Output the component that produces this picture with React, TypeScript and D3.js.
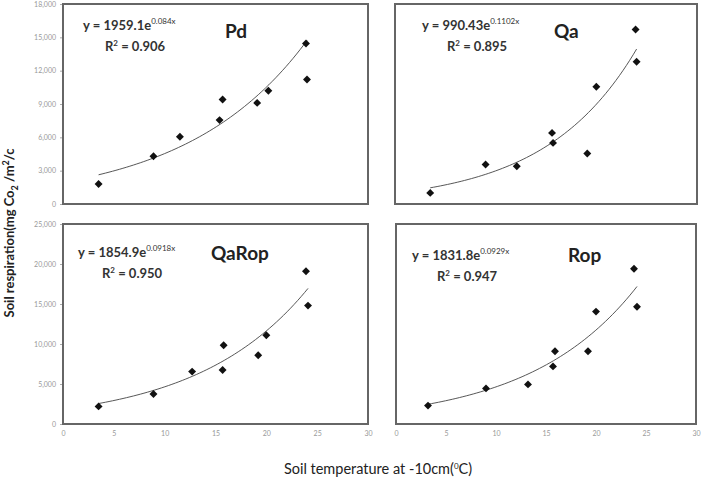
import * as d3 from 'd3'
import { useEffect, useRef } from 'react'

// soil temperature (x) and respiration (y)
const pdX = [3.5, 8.9, 11.5, 15.4, 15.7, 19.1, 20.2, 23.9, 24.0]
const pdY = [1800, 4300, 6050, 7550, 9400, 9100, 10200, 14450, 11200]
const qaX = [3.5, 9.0, 12.1, 15.6, 15.7, 19.1, 20.0, 23.9, 24.0]
const qaY = [1000, 3550, 3400, 6400, 5500, 4550, 10550, 15700, 12800]
const qaropX = [3.5, 8.9, 12.7, 15.7, 15.8, 19.2, 20.0, 23.9, 24.1]
const qaropY = [2200, 3750, 6550, 6750, 9850, 8600, 11100, 19100, 14800]
const ropX = [3.2, 9.0, 13.2, 15.7, 15.9, 19.2, 20.0, 23.8, 24.1]
const ropY = [2300, 4450, 4950, 7200, 9100, 9100, 14050, 19400, 14650]

const names = ['Pd', 'Qa', 'QaRop', 'Rop']
const coefA = ['1959.1', '990.43', '1854.9', '1831.8']
const coefB = ['0.084', '0.1102', '0.0918', '0.0929']
const r2 = ['0.906', '0.895', '0.950', '0.947']
const yMax = [18000, 18000, 25000, 25000]
const yStep = [3000, 3000, 5000, 5000]
const xTicks = [0, 5, 10, 15, 20, 25, 30]

const W = 701, H = 481
const boxes = [
  { x0: 63, x1: 368, y0: 4, y1: 204, yLab: true, xLab: false },
  { x0: 395, x1: 697, y0: 4, y1: 204, yLab: false, xLab: false },
  { x0: 63, x1: 368, y0: 224, y1: 424, yLab: true, xLab: true },
  { x0: 396, x1: 696, y0: 224, y1: 424, yLab: false, xLab: true },
]
// where the equation / name labels sit, relative to the box
const eqPos = [
  { ex: 20, ey: 26, rx: 42, ry: 47, nx: 162, ny: 34 },
  { ex: 27, ey: 26, rx: 52, ry: 47, nx: 159, ny: 34 },
  { ex: 15, ey: 33, rx: 39, ry: 54, nx: 148, ny: 36 },
  { ex: 16, ey: 36, rx: 41, ry: 57, nx: 172, ny: 38 },
]

const font = 'Lato, "Open Sans", "DejaVu Sans", sans-serif'

export default function App() {
  const svgRef = useRef(null)

  useEffect(() => {
    const svg = d3.select(svgRef.current)
    svg.selectAll('*').remove()
    const allX = [pdX, qaX, qaropX, ropX]
    const allY = [pdY, qaY, qaropY, ropY]

    boxes.forEach((b, k) => {
      const xScale = d3.scaleLinear().domain([0, 30]).range([b.x0, b.x1])
      const yScale = d3.scaleLinear().domain([0, yMax[k]]).range([b.y1, b.y0])
      const g = svg.append('g')

      if (b.yLab) {
        const yAxis = d3.axisLeft(yScale)
          .tickValues(d3.range(0, yMax[k] + 1, yStep[k]))
          .tickFormat(d3.format(','))
          .tickSize(3)
          .tickPadding(4)
        g.append('g')
          .attr('transform', `translate(${b.x0},0)`)
          .call(yAxis)
          .call(a => a.select('.domain').remove())
          .call(a => a.selectAll('line').attr('stroke', '#aaa'))
          .call(a => a.selectAll('text').attr('fill', '#999').style('font', `7px ${font}`))
      }
      if (b.xLab) {
        const xAxis = d3.axisBottom(xScale).tickValues(xTicks).tickSize(0).tickPadding(7)
        g.append('g')
          .attr('transform', `translate(0,${b.y1})`)
          .call(xAxis)
          .call(a => a.select('.domain').remove())
          .call(a => a.selectAll('text').attr('fill', '#999').style('font', `7px ${font}`))
      }

      g.append('rect')
        .attr('x', b.x0).attr('y', b.y0)
        .attr('width', b.x1 - b.x0).attr('height', b.y1 - b.y0)
        .attr('fill', 'none').attr('stroke', '#666').attr('stroke-width', 2)

      const a = +coefA[k], bb = +coefB[k]
      const ext = d3.extent(allX[k])
      const line = d3.line().x(d => xScale(d)).y(d => yScale(a * Math.exp(bb * d))).curve(d3.curveMonotoneX)
      const xs = d3.range(ext[0], ext[1] + 0.001, (ext[1] - ext[0]) / 60)
      g.append('path').attr('d', line(xs)).attr('fill', 'none').attr('stroke', '#444').attr('stroke-width', 0.9)

      g.selectAll('path.pt')
        .data(allX[k])
        .join('path')
        .attr('class', 'pt')
        .attr('d', d3.symbol(d3.symbolDiamond2, 40))
        .attr('transform', (d, i) => `translate(${xScale(d)},${yScale(allY[k][i])})`)
        .attr('fill', '#111')

      const p = eqPos[k]
      const eq = g.append('text')
        .attr('x', b.x0 + p.ex).attr('y', b.y0 + p.ey)
        .attr('fill', '#333').style('font', `bold 13px ${font}`)
      eq.append('tspan').text(`y = ${coefA[k]}e`)
      eq.append('tspan').attr('dy', -6).style('font-size', '8px').style('font-weight', 'normal').text(`${coefB[k]}x`)

      const r = g.append('text')
        .attr('x', b.x0 + p.rx).attr('y', b.y0 + p.ry)
        .attr('fill', '#333').style('font', `bold 13px ${font}`)
      r.append('tspan').text('R')
      r.append('tspan').attr('dy', -5).style('font-size', '8px').text('2')
      r.append('tspan').attr('dy', 5).text(` = ${r2[k]}`)

      g.append('text')
        .attr('x', b.x0 + p.nx).attr('y', b.y0 + p.ny)
        .attr('fill', '#222').style('font', `bold 19px ${font}`)
        .text(names[k])
    })

    const yt = svg.append('text')
      .attr('transform', 'translate(14,233) rotate(-90)')
      .attr('text-anchor', 'middle')
      .attr('fill', '#222').style('font', `bold 13px ${font}`)
    yt.append('tspan').text('Soil respiration(mg  Co')
    yt.append('tspan').attr('dy', 4).style('font-size', '9px').text('2')
    yt.append('tspan').attr('dy', -4).text(' /m')
    yt.append('tspan').attr('dy', -5).style('font-size', '9px').text('2')
    yt.append('tspan').attr('dy', 5).text('/c')

    const xt = svg.append('text')
      .attr('x', 378).attr('y', 474)
      .attr('text-anchor', 'middle')
      .attr('fill', '#222').style('font', `14.5px ${font}`)
    xt.append('tspan').text('Soil temperature at -10cm(')
    xt.append('tspan').attr('dy', -5).style('font-size', '8px').text('0')
    xt.append('tspan').attr('dy', 5).text('C)')
  }, [])

  return (
    <svg ref={svgRef} width={W} height={H}
      style={{ position: 'absolute', left: 0, top: 0, background: '#fff' }} />
  )
}
